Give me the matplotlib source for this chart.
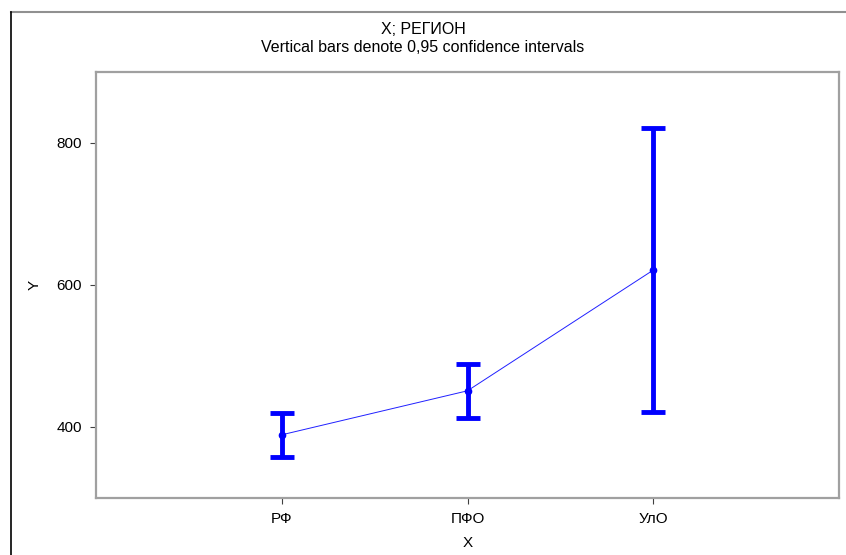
import numpy as np
import matplotlib.pyplot as plt
from matplotlib.lines import Line2D

plt.rcParams['font.family'] = ['Liberation Sans', 'DejaVu Sans']

#%% data: group means with 0.95 confidence limits
regions = ['РФ', 'ПФО', 'УлО']
means = [389, 451, 621]
ci_low = [358, 413, 421]
ci_high = [420, 489, 821]

#%% plot
fig = plt.figure(figsize=(8.46, 5.55), dpi=100)
ax = fig.add_axes([96/846, 1-498/555, 743/846, 426/555])

xx = np.arange(1, len(regions)+1)
yerr = [np.array(means)-np.array(ci_low), np.array(ci_high)-np.array(means)]

ax.plot(xx, means, color='#2020ff', lw=0.7, marker='o', ms=4.5,
        mfc='#0000ff', mec='#0000ff', zorder=3)
ax.errorbar(xx, means, yerr=yerr, fmt='none', ecolor='#0000ff',
            elinewidth=3.5, capsize=8.5, capthick=3.5, zorder=2)

ax.set_xlim(0, 4)
ax.set_ylim(300, 900)
ax.set_xticks(xx)
ax.set_xticklabels(regions)
ax.set_yticks([400, 600, 800])
ax.tick_params(direction='out', length=4, width=0.8, color='#404040',
               labelsize=11, pad=6)
for s in ax.spines.values():
    s.set_color('#a0a0a0')
    s.set_linewidth(1.6)

ax.set_xlabel('X', fontsize=11, labelpad=7)
ax.set_ylabel('Y', fontsize=11, labelpad=11)

fig.text(0.5, 1-30/555, 'X; РЕГИОН', ha='center', va='center', fontsize=11.5)
fig.text(0.5, 1-48/555, 'Vertical bars denote 0,95 confidence intervals',
         ha='center', va='center', fontsize=11.5)

# outer frame (top and left edges)
fig.add_artist(Line2D([11/846, 1], [1-12/555, 1-12/555], color='#909090', lw=1.5,
                      transform=fig.transFigure))
fig.add_artist(Line2D([11/846, 11/846], [0, 1-12/555], color='black', lw=1.2,
                      transform=fig.transFigure))

fig.savefig('out.png', dpi=100)
